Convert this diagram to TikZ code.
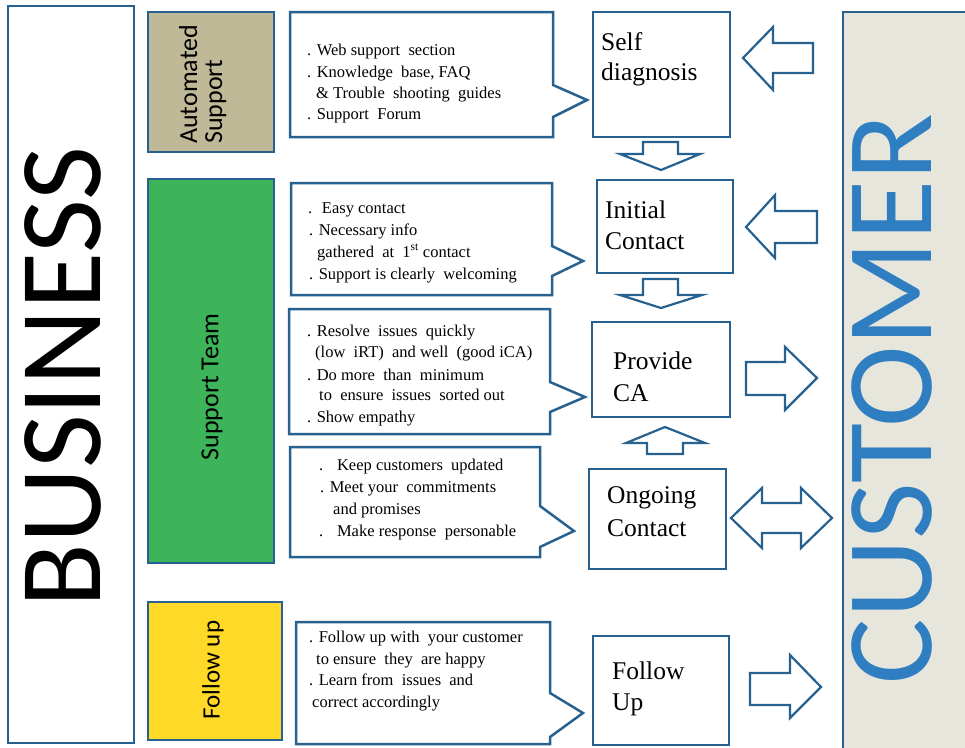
\documentclass[tikz,border=0pt]{standalone}
\usepackage{fontspec}
\setmainfont{Liberation Serif}
\newfontfamily\labelsans{Carlito}
\definecolor{edge}{HTML}{26618F}
\definecolor{custblue}{HTML}{2E7EC1}
\definecolor{custfill}{HTML}{E7E6DC}
\definecolor{khaki}{HTML}{BFB998}
\definecolor{teamgreen}{HTML}{3DB35A}
\definecolor{followyellow}{HTML}{FFD928}
\begin{document}
\begin{tikzpicture}[x=1pt,y=-1pt,
  frame/.style={draw=edge, line width=2.5pt},
  boxnode/.style={frame, anchor=north west, inner sep=0pt, outer sep=0pt},
  blockarrow/.style={draw=edge, line width=2.2pt, fill=white, line join=miter},
  note/.style={anchor=base west, inner sep=0pt, font=\fontsize{16.5}{19}\selectfont},
  stage/.style={anchor=base west, inner sep=0pt, font=\fontsize{25.5}{30}\selectfont},
  barlabel/.style={inner sep=0pt, rotate=90, font=\labelsans\fontsize{26}{30}\selectfont},
]
\useasboundingbox (0,0) rectangle (965,747);
\fill[white] (0,0) rectangle (965,747);

% ---- side columns ----
\node[boxnode, minimum width=126pt, minimum height=737pt] (business) at (8,6) {};
\node[anchor=base, rotate=90, inner sep=0pt, font=\labelsans\fontsize{117}{120}\selectfont] (businesstext) at (100,377) {BUSINESS};

\begin{scope}
  \clip (0,0) rectangle (965,747);
  \draw[frame, fill=custfill] (843,12) rectangle (980,760);
\end{scope}
\node[anchor=base, rotate=90, inner sep=0pt, text=custblue, font=\labelsans\fontsize{123}{126}\selectfont] (customertext) at (931,399) {CUSTOMER};

% ---- business areas ----
\node[boxnode, fill=khaki, minimum width=126pt, minimum height=140pt] (autobox) at (148,12) {};
\node[barlabel, anchor=base west] (autotext1) at (197,144) {Automated};
\node[barlabel, anchor=base west] (autotext2) at (222,144) {Support};

\node[boxnode, fill=teamgreen, minimum width=126pt, minimum height=384pt] (teambox) at (148,179) {};
\node[barlabel] (teamtext) at (212,387) {Support Team};

\node[boxnode, fill=followyellow, minimum width=134pt, minimum height=138pt] (followbar) at (148,602) {};
\node[barlabel, font=\labelsans\fontsize{25}{30}\selectfont] (followbartext) at (213,670) {Follow up};

% ---- callouts ----
\draw[frame, fill=white] (290,12) -- (553,12) -- (553,85) -- (587,100) -- (553,117) -- (553,137) -- (290,137) -- cycle;
\node[note] (n11) at (307,55) {. Web support~ section};
\node[note] (n12) at (307,77) {. Knowledge~ base, FAQ};
\node[note] (n13) at (316,98) {\& Trouble~ shooting~ guides};
\node[note] (n14) at (307,119) {. Support~ Forum};

\draw[frame, fill=white] (291,183) -- (552,183) -- (552,246) -- (583,261) -- (552,276) -- (552,295) -- (291,295) -- cycle;
\node[note] (n21) at (308,213) {.~ Easy contact};
\node[note] (n22) at (309,235) {. Necessary info};
\node[note] (n23) at (317,257) {gathered~ at~ 1\textsuperscript{st} contact};
\node[note] (n24) at (309,279) {. Support is clearly~ welcoming};

\draw[frame, fill=white] (289,309) -- (550,309) -- (550,382) -- (585,397) -- (550,412) -- (550,434) -- (289,434) -- cycle;
\node[note] (n31) at (307,336) {. Resolve~ issues~ quickly};
\node[note] (n32) at (315,357) {(low~ iRT)~ and well~ (good iCA)};
\node[note] (n33) at (307,380) {. Do more~ than~ minimum};
\node[note] (n34) at (319,400) {to~ ensure~ issues~ sorted out};
\node[note] (n35) at (307,422) {. Show empathy};

\draw[frame, fill=white] (290,447) -- (540,447) -- (540,506) -- (574,531) -- (540,547) -- (540,557) -- (290,557) -- cycle;
\node[note] (n41) at (319,470) {.~~ Keep customers~ updated};
\node[note] (n42) at (320,492) {. Meet your~ commitments};
\node[note] (n43) at (333,514) {and promises};
\node[note] (n44) at (319,536) {.~~ Make response~ personable};

\draw[frame, fill=white] (296,622) -- (550,622) -- (550,693) -- (583,713) -- (550,737) -- (550,744) -- (296,744) -- cycle;
\node[note] (n51) at (309,642) {. Follow up with~ your customer};
\node[note] (n52) at (316,664) {to ensure~ they~ are happy};
\node[note] (n53) at (309,685) {. Learn from~ issues~ and};
\node[note] (n54) at (312,707) {correct accordingly};

% ---- stages ----
\node[boxnode, minimum width=137pt, minimum height=125pt] (self) at (593,12) {};
\node[stage] (self1) at (601,50) {Self};
\node[stage] (self2) at (601,80) {diagnosis};

\node[boxnode, minimum width=136pt, minimum height=93pt] (initial) at (597,180) {};
\node[stage] (initial1) at (605,218) {Initial};
\node[stage] (initial2) at (605,249) {Contact};

\node[boxnode, minimum width=138pt, minimum height=95pt] (provide) at (592,322) {};
\node[stage] (provide1) at (613,369) {Provide};
\node[stage] (provide2) at (613,401) {CA};

\node[boxnode, minimum width=137pt, minimum height=100pt] (ongoing) at (589,469) {};
\node[stage] (ongoing1) at (607,503) {Ongoing};
\node[stage] (ongoing2) at (607,536) {Contact};

\node[boxnode, minimum width=136pt, minimum height=109pt] (followup) at (593,636) {};
\node[stage] (followup1) at (612,679) {Follow};
\node[stage] (followup2) at (612,710) {Up};

% ---- block arrows ----
% customer -> self diagnosis
\draw[blockarrow] (743,58) -- (773,27) -- (773,43) -- (813,43) -- (813,73) -- (773,73) -- (773,90) -- cycle;
% customer -> initial contact
\draw[blockarrow] (746,227) -- (775,195) -- (775,211) -- (817,211) -- (817,243) -- (775,243) -- (775,258) -- cycle;
% self diagnosis -> initial contact
\draw[blockarrow] (643,142) -- (678,142) -- (678,154) -- (700,154) -- (661,170) -- (620,154) -- (643,154) -- cycle;
% initial contact -> provide CA
\draw[blockarrow] (643,279) -- (678,279) -- (678,295) -- (702,295) -- (661,308) -- (620,295) -- (643,295) -- cycle;
% ongoing contact -> provide CA
\draw[blockarrow] (665,427) -- (705,443) -- (683,443) -- (683,454) -- (647,454) -- (647,443) -- (626,443) -- cycle;
% provide CA -> customer
\draw[blockarrow] (746,362) -- (785,362) -- (785,347) -- (817,378) -- (785,410) -- (785,395) -- (746,395) -- cycle;
% ongoing contact <-> customer
\draw[blockarrow] (731,518) -- (762,488) -- (762,503) -- (801,503) -- (801,488) -- (832,518) -- (801,548) -- (801,533) -- (762,533) -- (762,548) -- cycle;
% follow up -> customer
\draw[blockarrow] (750,673) -- (790,673) -- (790,655) -- (821,687) -- (790,718) -- (790,705) -- (750,705) -- cycle;
\end{tikzpicture}
\end{document}
